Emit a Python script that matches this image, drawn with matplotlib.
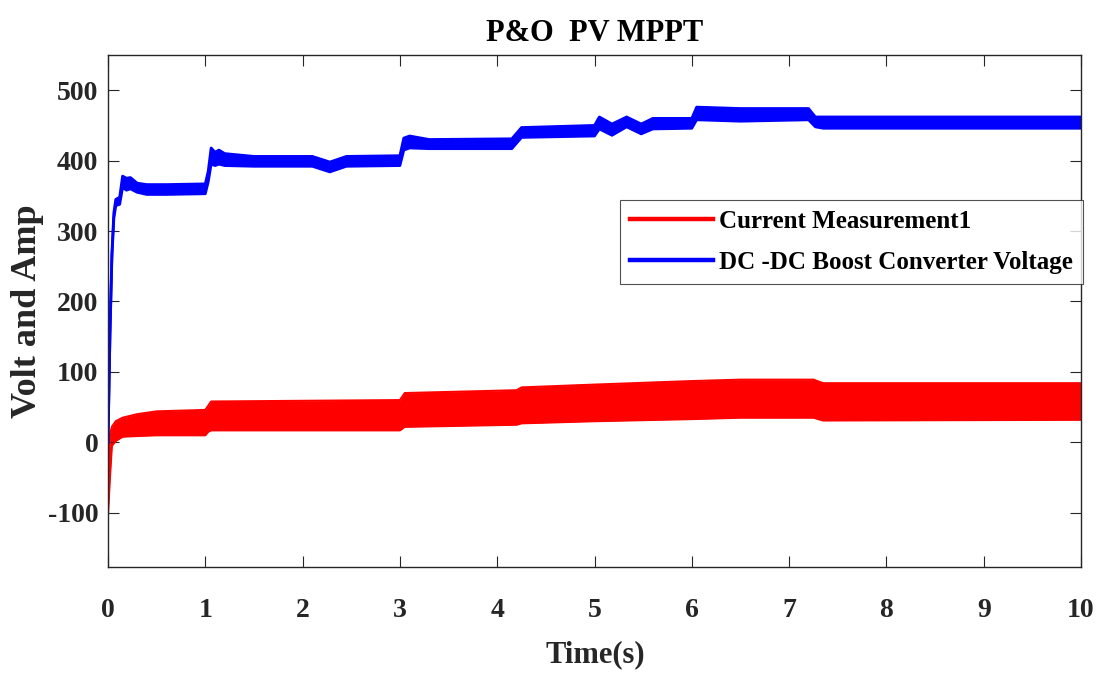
import matplotlib
matplotlib.use('Agg')
import matplotlib.pyplot as plt
import numpy as np

plt.rcParams['font.family']=['Liberation Serif','DejaVu Serif']
plt.rcParams['font.weight']='bold'
plt.rcParams['axes.unicode_minus']=False

# boost converter output voltage: lower / upper edge of the ripple band
v_time=[0.00,0.02,0.04,0.06,0.08,0.12,0.15,0.19,0.23,0.30,0.40,0.60,1.00,1.03,1.06,1.10,1.14,1.20,1.50,
        2.10,2.28,2.45,3.00,3.04,3.10,3.30,4.15,4.25,5.00,5.05,5.18,5.33,5.48,5.60,6.00,6.05,6.50,7.20,
        7.27,7.35,10.0]
v_low=[0,150,262,318,336,338,362,358,360,355,352,352,353,370,395,393,395,393,392,
       392,384,392,393,415,418,417,417,433,435,445,436,448,438,445,446,458,456,458,
       448,446,446]
v_high=[0,155,268,326,345,348,378,375,376,368,366,366,367,385,418,412,415,410,406,
        406,398,406,407,432,435,430,431,447,450,462,452,462,452,460,460,476,474,474,
        462,462,462]

# current measurement: lower / upper edge of the ripple band
i_time=[0.00,0.02,0.04,0.08,0.15,0.30,0.50,1.00,1.03,1.06,3.00,3.05,4.20,4.25,5.00,6.00,6.50,7.25,7.35,10.0]
i_low=[-102,-50,-5,2,8,9,10,10,15,17,17,22,25,27,30,33,35,35,31,32]
i_high=[-95,10,22,30,35,40,44,46,52,58,60,70,74,78,82,87,89,89,84,84]

xticks=list(range(0,11))
yticks=[-100,0,100,200,300,400,500]

fig=plt.figure(figsize=(11.01,6.73),dpi=100)
ax=fig.add_axes([108/1101,1-567/673,(1081-108)/1101,(567-55)/673])

ax.fill_between(i_time,i_low,i_high,color='red',lw=0)
ax.plot(i_time,i_low,c='red',lw=1.5)
ax.plot(i_time,i_high,c='red',lw=1.5)
ax.plot([],[],c='red',lw=3.2,label='Current Measurement1')

ax.fill_between(v_time,v_low,v_high,color='blue',lw=0)
ax.plot(v_time,v_low,c='blue',lw=2)
ax.plot(v_time,v_high,c='blue',lw=2)
ax.plot([],[],c='blue',lw=3.2,label='DC -DC Boost Converter Voltage')

ax.set_xlim(0,10)
ax.set_ylim(-177,550)
ax.set_xticks(xticks)
ax.set_yticks(yticks)
ax.tick_params(direction='in',length=8,width=0.8,color='#262626',labelcolor='#262626',
               top=True,right=True,labelsize=20)
ax.tick_params(axis='x',pad=22)
ax.tick_params(axis='y',pad=7)
for s in ax.spines.values():
    s.set_color('#262626')
    s.set_linewidth(1.0)

ax.set_title('P&O  PV MPPT',fontsize=22,fontweight='bold',color='black',pad=10)
ax.set_xlabel('Time(s)',fontsize=22,fontweight='bold',color='#262626')
ax.set_ylabel('Volt and Amp',fontsize=26,fontweight='bold',color='#262626')
# label positions in figure pixels
ax.xaxis.set_label_coords(595/1101,1-655/673,transform=fig.transFigure)
ax.xaxis.label.set_va('center')
ax.yaxis.set_label_coords(28/1101,1-311/673,transform=fig.transFigure)
ax.yaxis.label.set_va('center')

leg=ax.legend(loc='upper right',bbox_to_anchor=(1083/1101,1-200/673),bbox_transform=fig.transFigure,
              borderaxespad=0,fontsize=18,handlelength=3.3,handletextpad=0.25,borderpad=0.4,
              labelspacing=0.7,frameon=True,fancybox=False)
leg.get_frame().set_edgecolor('#262626')
leg.get_frame().set_linewidth(0.8)

fig.savefig('out.png',dpi=100)
